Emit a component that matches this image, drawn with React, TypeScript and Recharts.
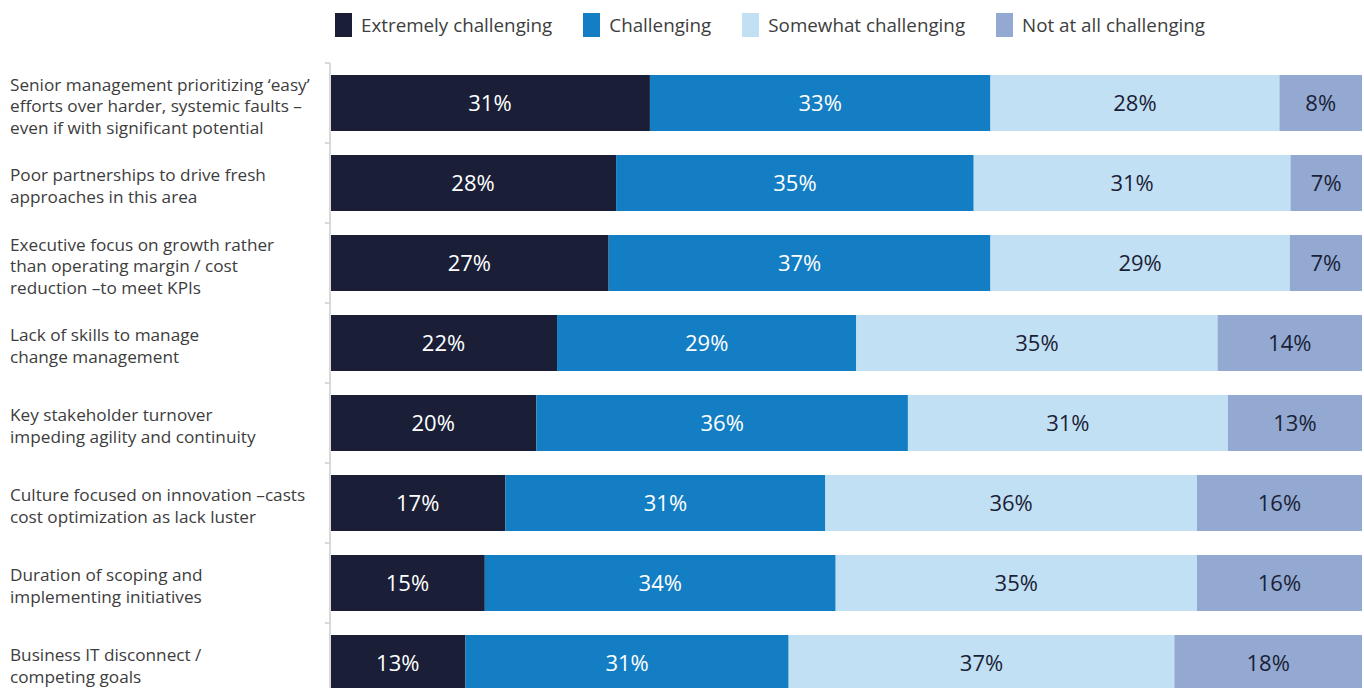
import React from "react";
import { BarChart, Bar, XAxis, YAxis, Legend, LabelList } from "recharts";

const categories = [
  "Senior management prioritizing ‘easy’\nefforts over harder, systemic faults –\neven if with significant potential",
  "Poor partnerships to drive fresh\napproaches in this area",
  "Executive focus on growth rather\nthan operating margin / cost\nreduction –to meet KPIs",
  "Lack of skills to manage\nchange management",
  "Key stakeholder turnover\nimpeding agility and continuity",
  "Culture focused on innovation –casts\ncost optimization as lack luster",
  "Duration of scoping and\nimplementing initiatives",
  "Business IT disconnect /\ncompeting goals",
];

const extremely = [31, 28, 27, 22, 20, 17, 15, 13];
const challenging = [33, 35, 37, 29, 36, 31, 34, 31];
const somewhat = [28, 31, 29, 35, 31, 36, 35, 37];
const notAtAll = [8, 7, 7, 14, 13, 16, 16, 18];

const series = [
  { key: "extremely", name: "Extremely challenging", color: "#1a1f37", text: "#ffffff" },
  { key: "challenging", name: "Challenging", color: "#137ec3", text: "#ffffff" },
  { key: "somewhat", name: "Somewhat challenging", color: "#c2e0f4", text: "#1a1f37" },
  { key: "notAtAll", name: "Not at all challenging", color: "#93a9d1", text: "#1a1f37" },
];

const rows = categories.map((label, i) => ({
  label,
  extremely: extremely[i],
  challenging: challenging[i],
  somewhat: somewhat[i],
  notAtAll: notAtAll[i],
}));

const FONT = "'Open Sans', Lato, sans-serif";
const AXIS_X = 330;

const CategoryTick = (props: any) => {
  const { y, payload } = props;
  const lines = String(payload.value).split("\n");
  const lh = 21.5;
  const half = payload.offset || 40;
  const startY = y + 2 - ((lines.length - 1) * lh) / 2;
  return (
    <g>
      <line x1={AXIS_X - 5} x2={AXIS_X} y1={y - half} y2={y - half} stroke="#d9d9d9" strokeWidth={2} />
      <line x1={AXIS_X - 5} x2={AXIS_X} y1={y + half} y2={y + half} stroke="#d9d9d9" strokeWidth={2} />
      <text x={10} y={startY} fill="#3d3d3d" fontSize={17.2} fontFamily={FONT} dominantBaseline="central">
        {lines.map((l, i) => (
          <tspan key={i} x={10} y={startY + i * lh}>
            {l}
          </tspan>
        ))}
      </text>
    </g>
  );
};

const LegendContent = () => (
  <div style={{ display: "flex", alignItems: "center", paddingLeft: 335, paddingTop: 12, fontFamily: FONT }}>
    {series.map((s) => (
      <div key={s.key} style={{ display: "flex", alignItems: "center", marginRight: 31 }}>
        <div style={{ width: 17, height: 24, background: s.color, marginRight: 9 }} />
        <span style={{ fontSize: 18.8, color: "#3d3d3d" }}>{s.name}</span>
      </div>
    ))}
  </div>
);

export default function App() {
  return (
    <div style={{ position: "fixed", left: 0, top: 0, width: 1364, height: 688, overflow: "hidden", background: "#fff" }}>
      <BarChart
        width={1364}
        height={720}
        data={rows}
        layout="vertical"
        stackOffset="expand"
        barSize={56}
        margin={{ top: 63, right: 2, bottom: 17, left: 0 }}
      >
        <XAxis type="number" hide domain={[0, 1]} />
        <YAxis
          type="category"
          dataKey="label"
          width={AXIS_X}
          axisLine={{ stroke: "#d9d9d9", strokeWidth: 2 }}
          tickLine={false}
          tick={<CategoryTick />}
          interval={0}
        />
        <Legend
          layout="horizontal"
          verticalAlign="middle"
          align="center"
          wrapperStyle={{ top: 0, left: 0, width: 1364 }}
          content={<LegendContent />}
        />
        {series.map((s) => (
          <Bar key={s.key} dataKey={s.key} name={s.name} stackId="a" fill={s.color} isAnimationActive={false}>
            <LabelList
              dataKey={s.key}
              position="center"
              formatter={(v: any) => `${v}%`}
              fill={s.text}
              fontSize={22}
              fontFamily={FONT}
            />
          </Bar>
        ))}
      </BarChart>
    </div>
  );
}
